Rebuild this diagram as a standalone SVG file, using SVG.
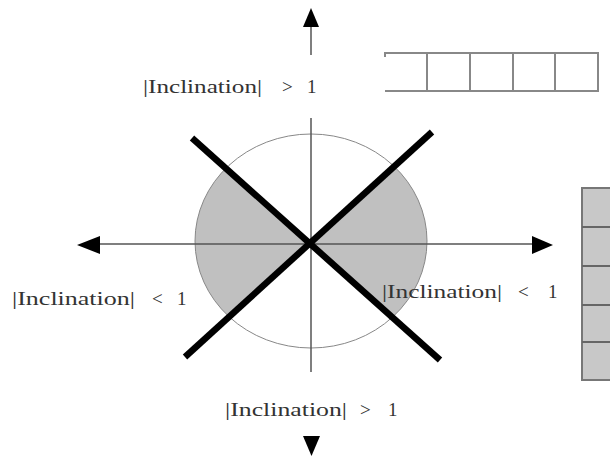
<svg xmlns="http://www.w3.org/2000/svg" width="610" height="458" viewBox="0 0 610 458">
  <style>
    .lbl { font-family: "Liberation Serif", "Times New Roman", serif; font-size: 19px; fill: #333; }
    .axis { stroke: #555; stroke-width: 1.5; fill: none; }
    .head { fill: #000; }
    .thick { stroke: #000; stroke-width: 6.5; fill: none; }
    .cells { stroke: #888; stroke-width: 2; fill: none; }
  </style>
  <defs>
    <clipPath id="wedges">
      <polygon points="310,243 150,100 150,389"/>
      <polygon points="310,243 470,97 470,386"/>
    </clipPath>
  </defs>
  <rect width="610" height="458" fill="#fff"/>

  <g id="circle">
    <ellipse cx="311" cy="241" rx="116" ry="107" fill="#c0c0c0" clip-path="url(#wedges)"/>
    <ellipse cx="311" cy="241" rx="116" ry="107" fill="none" stroke="#888" stroke-width="1"/>
  </g>

  <g id="connectors">
    <line class="axis" x1="100" y1="244" x2="533" y2="244"/>
    <line class="axis" x1="311" y1="118" x2="311" y2="372"/>
    <line class="axis" x1="311" y1="26" x2="311" y2="55"/>
    <polygon class="head" points="311,8 303,27 319,27"/>
    <polygon class="head" points="303,436 320,436 311.5,456"/>
    <polygon class="head" points="77,245 100,236 100,254"/>
    <polygon class="head" points="553,245 532,236 532,254"/>
  </g>

  <g id="cross">
    <line class="thick" x1="192" y1="138" x2="440" y2="360"/>
    <line class="thick" x1="185" y1="357" x2="432" y2="132"/>
  </g>

  <g id="top-cells">
    <path class="cells" d="M385,57 V53 H598 V91 H385 M427,53 V91 M470,53 V91 M513,53 V91 M555,53 V91"/>
  </g>

  <g id="right-cells">
    <rect x="582" y="188" width="40" height="192" fill="#c8c8c8" stroke="#777" stroke-width="2"/>
    <path d="M582,227 H612 M582,266 H612 M582,305 H612 M582,342 H612" stroke="#666" stroke-width="2" fill="none"/>
  </g>

  <g id="label-top">
    <text class="lbl" y="93"><tspan x="143" textLength="119" lengthAdjust="spacingAndGlyphs">|Inclination|</tspan><tspan x="282">&gt;</tspan><tspan x="307">1</tspan></text>
  </g>
  <g id="label-left">
    <text class="lbl" y="305"><tspan x="12" textLength="123" lengthAdjust="spacingAndGlyphs">|Inclination|</tspan><tspan x="152">&lt;</tspan><tspan x="177">1</tspan></text>
  </g>
  <g id="label-right">
    <text class="lbl" y="298"><tspan x="382" textLength="120" lengthAdjust="spacingAndGlyphs">|Inclination|</tspan><tspan x="518">&lt;</tspan><tspan x="548">1</tspan></text>
  </g>
  <g id="label-bottom">
    <text class="lbl" y="416"><tspan x="225" textLength="122" lengthAdjust="spacingAndGlyphs">|Inclination|</tspan><tspan x="360">&gt;</tspan><tspan x="388">1</tspan></text>
  </g>
</svg>
